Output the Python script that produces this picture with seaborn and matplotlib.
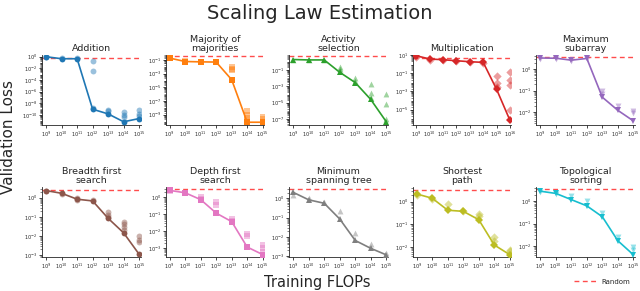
import numpy as np
import pandas as pd
import matplotlib
matplotlib.use("Agg")
import matplotlib.pyplot as plt
from matplotlib.ticker import FixedLocator, LogLocator, NullLocator, LogFormatterMathtext
from matplotlib.lines import Line2D
import seaborn as sns

# ---------------- data (log10 values) ----------------
titles = ["Addition", "Majority of\nmajorities", "Activity\nselection", "Multiplication",
          "Maximum\nsubarray", "Breadth first\nsearch", "Depth first\nsearch",
          "Minimum\nspanning tree", "Shortest\npath", "Topological\nsorting"]

flops = [9, 10, 11, 12, 13, 14, 15]
flops_mul = [9, 10, 11, 12, 13, 14, 15, 16]

add_best = [0.0, -0.34, -0.34, -9.0, -9.8, -11.15, -10.6]
add_run_x = [9, 9, 10, 11, 12, 12, 12, 13, 13, 14, 14, 14, 15, 15, 15]
add_run_y = [0.1, 0.0, -0.2, -0.3, -0.8, -2.5, -8.8, -9.1, -9.3, -9.4, -10.0, -10.4, -9.2, -9.8, -10.2]

maj_best = [-0.75, -1.25, -1.3, -1.33, -3.9, -10.1, -10.1]
maj_run_x = [9, 9, 10, 11, 12, 13, 13, 13, 14, 14, 14, 14, 15, 15, 15]
maj_run_y = [-0.5, -0.65, -1.2, -1.25, -1.3, -2.0, -2.3, -2.5, -8.4, -9.0, -9.5, -9.9, -9.4, -9.7, -10.0]

act_best = [0.25, 0.2, 0.2, -1.3, -2.55, -4.6, -7.3]
act_run_x = [9, 10, 11, 12, 12, 12, 13, 13, 14, 14, 14, 15, 15, 15]
act_run_y = [0.2, 0.2, 0.2, -0.6, -0.9, -1.1, -2.0, -2.3, -2.75, -3.8, -4.4, -3.9, -5.2, -7.0]

mul_best = [0.92, 0.56, 0.48, 0.37, 0.26, 0.19, -2.78, -6.2]
mul_run_x = [9, 10, 11, 12, 13, 14, 15, 15, 15, 16, 16, 16, 16]
mul_run_y = [0.8, 0.5, 0.45, 0.35, 0.25, 0.15, -1.3, -2.1, -2.5, -0.92, -1.74, -2.33, -5.1]

max_best = [0.51, 0.5, 0.41, 0.49, -1.31, -1.92, -2.41]
max_run_x = [9, 10, 11, 12, 13, 13, 14, 15, 15]
max_run_y = [0.45, 0.45, 0.35, 0.45, -1.03, -1.15, -1.7, -1.96, -2.05]

bfs_best = [0.37, 0.23, -0.08, -0.17, -1.08, -1.84, -2.96]
bfs_run_x = [9, 10, 11, 11, 12, 13, 13, 13, 14, 14, 14, 14, 15, 15, 15]
bfs_run_y = [0.35, 0.2, 0.0, -0.1, -0.12, -0.74, -0.9, -1.0, -1.26, -1.4, -1.55, -1.7, -2.0, -2.2, -2.3]

dfs_best = [0.4, 0.26, -0.14, -0.93, -1.43, -2.92, -3.36]
dfs_run_x = [9, 10, 11, 11, 12, 12, 13, 13, 14, 14, 15, 15, 15]
dfs_run_y = [0.38, 0.25, 0.0, -0.1, -0.27, -0.43, -1.3, -1.4, -2.13, -2.3, -2.82, -3.0, -3.2]

mst_best = [0.32, -0.07, -0.25, -1.07, -2.19, -2.6, -2.94]
mst_run_x = [9, 10, 11, 12, 13, 14, 15]
mst_run_y = [0.2, 0.0, -0.2, -0.66, -1.79, -2.37, -2.85]

sp_best = [0.34, 0.15, -0.38, -0.43, -0.8, -1.92, -2.35]
sp_run_x = [9, 10, 11, 12, 13, 13, 14, 14, 15, 15]
sp_run_y = [0.3, 0.1, -0.1, -0.4, -0.53, -0.65, -1.56, -1.75, -2.12, -2.2]

topo_best = [0.46, 0.36, 0.08, -0.2, -0.69, -1.77, -2.4]
topo_run_x = [9, 10, 11, 12, 13, 14, 15, 15]
topo_run_y = [0.42, 0.33, 0.26, 0.0, -0.5, -1.6, -2.07, -2.2]

random_loss = [-0.17, -0.42, 0.66, 0.63, 0.57, 0.4, 0.46, 0.5, 0.53, 0.54]

# ---------------- styling ----------------
best_list = [add_best, maj_best, act_best, mul_best, max_best,
             bfs_best, dfs_best, mst_best, sp_best, topo_best]
runx_list = [add_run_x, maj_run_x, act_run_x, mul_run_x, max_run_x,
             bfs_run_x, dfs_run_x, mst_run_x, sp_run_x, topo_run_x]
runy_list = [add_run_y, maj_run_y, act_run_y, mul_run_y, max_run_y,
             bfs_run_y, dfs_run_y, mst_run_y, sp_run_y, topo_run_y]
markers = ["o", "s", "^", "D", "v", "o", "s", "^", "D", "v"]
ylims = [(-11.7, 0.3), (-10.5, -0.3), (-7.7, 0.8), (-6.7, 1.0), (-2.6, 0.65),
         (-3.1, 0.56), (-3.5, 0.6), (-3.05, 0.6), (-2.45, 0.65), (-2.5, 0.65)]
yticks = [[0, -2, -4, -6, -8, -10], [-1, -3, -5, -7, -9], [-1, -3, -5, -7], [1, -1, -3, -5],
          [0, -1, -2], [0, -1, -2, -3], [0, -1, -2, -3], [0, -1, -2, -3], [0, -1, -2], [0, -1, -2]]

sns.set_style("ticks")
plt.rcParams["font.family"] = ["DejaVu Sans"]
palette = sns.color_palette("tab10", 10)

fig, axes = plt.subplots(2, 5, figsize=(6.4, 2.91), dpi=100)
fig.subplots_adjust(left=0.066, right=0.992, top=0.811, bottom=0.117, wspace=0.255, hspace=0.886)

for i, ax in enumerate(axes.flat):
    xs = flops_mul if i == 3 else flops
    col = palette[i]
    df_line = pd.DataFrame({"flops": [10.0 ** v for v in xs], "loss": [10.0 ** v for v in best_list[i]]})
    df_runs = pd.DataFrame({"flops": [10.0 ** v for v in runx_list[i]], "loss": [10.0 ** v for v in runy_list[i]]})
    ax.set_xscale("log")
    ax.set_yscale("log")
    sns.scatterplot(data=df_runs, x="flops", y="loss", marker=markers[i], color=col, alpha=0.45,
                    s=18, linewidth=0, ax=ax, zorder=2)
    sns.lineplot(data=df_line, x="flops", y="loss", marker=markers[i], color=col, markersize=4.2,
                 markeredgewidth=0, linewidth=1.2, ax=ax, zorder=3)
    ax.axhline(10.0 ** random_loss[i], color="red", alpha=0.7, linestyle=(0, (3.5, 2.5)),
               linewidth=1.0, zorder=1)
    ax.set_ylim(10.0 ** ylims[i][0], 10.0 ** ylims[i][1])
    ax.set_xlim(10.0 ** (xs[0] - 0.25), 10.0 ** (xs[-1] + 0.1))
    ax.xaxis.set_major_locator(FixedLocator([10.0 ** v for v in xs]))
    ax.xaxis.set_minor_locator(NullLocator())
    ax.xaxis.set_major_formatter(LogFormatterMathtext())
    ax.yaxis.set_major_locator(FixedLocator([10.0 ** v for v in yticks[i]]))
    ax.yaxis.set_major_formatter(LogFormatterMathtext())
    ax.yaxis.set_minor_locator(LogLocator(base=10, subs=np.arange(2, 10), numticks=100))
    ax.tick_params(axis="both", which="major", labelsize=3.6, length=2, width=0.6, pad=1.5)
    ax.tick_params(axis="y", which="minor", length=1.2, width=0.4)
    ax.set_title(titles[i], fontsize=6.8, pad=3, linespacing=1.0)
    ax.set_xlabel("")
    ax.set_ylabel("")
    for sp in ["left", "bottom"]:
        ax.spines[sp].set_linewidth(0.6)
    sns.despine(ax=ax)

fig.suptitle("Scaling Law Estimation", fontsize=14, y=0.985)
fig.text(0.014, 0.53, "Validation Loss", rotation=90, fontsize=11, va="center", ha="center")
fig.text(0.495, 0.03, "Training FLOPs", fontsize=10.5, va="center", ha="center")
handle = Line2D([0], [0], color="red", alpha=0.7, linestyle=(0, (3.5, 2.5)), linewidth=1.0)
fig.legend([handle], ["Random"], loc="lower right", bbox_to_anchor=(0.995, 0.0), fontsize=5,
           frameon=False, handlelength=3.2)

fig.savefig("out.png", dpi=100)
